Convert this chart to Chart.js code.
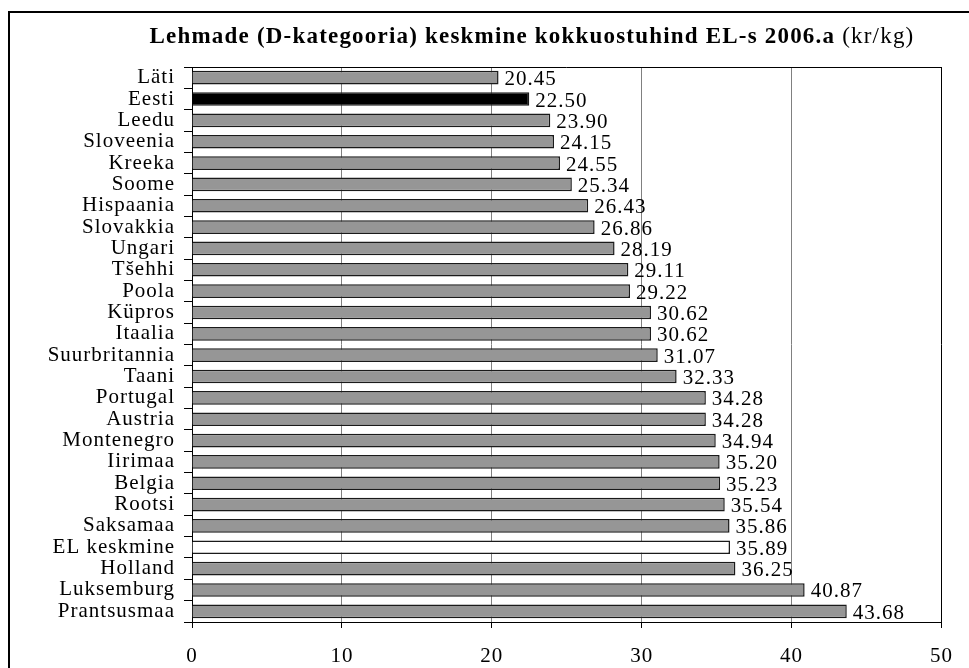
<!DOCTYPE html>
<html>
<head>
<meta charset="utf-8">
<script src="https://cdn.jsdelivr.net/npm/chart.js@4.4.1/dist/chart.umd.min.js"></script>
<style>
  body { margin: 0; background: #fff; }
  #chart-container { width: 969px; height: 668px; position: relative; }
</style>
</head>
<body>
<div id="chart-container"><canvas id="price-chart"></canvas></div>
<script>
// Data
const countries = ['Läti', 'Eesti', 'Leedu', 'Sloveenia', 'Kreeka', 'Soome', 'Hispaania', 'Slovakkia',
    'Ungari', 'Tšehhi', 'Poola', 'Küpros', 'Itaalia', 'Suurbritannia', 'Taani', 'Portugal', 'Austria',
    'Montenegro', 'Iirimaa', 'Belgia', 'Rootsi', 'Saksamaa', 'EL keskmine', 'Holland', 'Luksemburg', 'Prantsusmaa'];
const prices = [20.45, 22.50, 23.90, 24.15, 24.55, 25.34, 26.43, 26.86, 28.19, 29.11, 29.22, 30.62, 30.62,
    31.07, 32.33, 34.28, 34.28, 34.94, 35.20, 35.23, 35.54, 35.86, 35.89, 36.25, 40.87, 43.68];
const xTicks = [0, 10, 20, 30, 40, 50];

const titleBold = 'Lehmade (D-kategooria) keskmine kokkuostuhind EL-s 2006.a';
const titleUnit = ' (kr/kg)';

const serif = '"Liberation Serif", "Times New Roman", serif';
const spacing = '1px';

// Bar colours: Estonia black, EU average white, others grey
const barColors = countries.map(c => c === 'Eesti' ? '#000000' : (c === 'EL keskmine' ? '#ffffff' : '#969696'));

// The original text is a bit wide, so add some letter spacing on the canvas
const spacingPlugin = {
    id: 'spacing',
    beforeLayout(chart) { chart.ctx.letterSpacing = spacing; },
    beforeDraw(chart) { chart.ctx.letterSpacing = spacing; }
};

// Outer frame, title and top border of the plot
const decorPlugin = {
    id: 'decor',
    afterDraw(chart) {
        const ctx = chart.ctx;
        const area = chart.chartArea;
        ctx.save();
        ctx.strokeStyle = '#000';
        ctx.lineWidth = 2;
        ctx.beginPath();
        ctx.moveTo(9, chart.height);
        ctx.lineTo(9, 12);
        ctx.lineTo(chart.width, 12);
        ctx.stroke();

        ctx.lineWidth = 1;
        ctx.beginPath();
        ctx.moveTo(area.left, Math.round(area.top) + 0.5);
        ctx.lineTo(area.right, Math.round(area.top) + 0.5);
        ctx.stroke();

        ctx.fillStyle = '#000';
        ctx.textBaseline = 'alphabetic';
        ctx.textAlign = 'left';
        ctx.letterSpacing = '1.2px';
        ctx.font = 'bold 23px ' + serif;
        const w1 = ctx.measureText(titleBold).width;
        ctx.font = '23px ' + serif;
        const w2 = ctx.measureText(titleUnit).width;
        let x = 532 - (w1 + w2) / 2;
        ctx.font = 'bold 23px ' + serif;
        ctx.fillText(titleBold, x, 43);
        ctx.font = '23px ' + serif;
        ctx.fillText(titleUnit, x + w1, 43);
        ctx.restore();
    }
};

// Value labels at the end of each bar
const valueLabelPlugin = {
    id: 'valueLabels',
    afterDatasetsDraw(chart) {
        const ctx = chart.ctx;
        const meta = chart.getDatasetMeta(0);
        ctx.save();
        ctx.font = '21px ' + serif;
        ctx.fillStyle = '#000';
        ctx.textAlign = 'left';
        ctx.textBaseline = 'middle';
        meta.data.forEach((bar, i) => {
            ctx.fillText(prices[i].toFixed(2), bar.x + 6, bar.y + 2);
        });
        ctx.restore();
    }
};

var ctx = document.getElementById('price-chart').getContext('2d');
var priceChart = new Chart(ctx, {
    type: 'bar',
    data: {
        labels: countries,
        datasets: [{
            data: prices,
            backgroundColor: barColors,
            borderColor: '#1a1a1a',
            borderWidth: 1.5,
            barPercentage: 0.64,
            categoryPercentage: 1
        }]
    },
    options: {
        indexAxis: 'y',
        responsive: true,
        maintainAspectRatio: false,
        animation: false,
        layout: { padding: { top: 67, right: 27, bottom: 0, left: 0 } },
        plugins: {
            legend: { display: false },
            tooltip: { enabled: false }
        },
        scales: {
            x: {
                min: 0,
                max: 50,
                afterFit(scale) { scale.height = 46; },
                afterBuildTicks(scale) { scale.ticks = xTicks.map(v => ({ value: v })); },
                grid: {
                    color: c => (c.tick && (c.tick.value === 0 || c.tick.value === 50)) ? '#000' : '#808080',
                    tickColor: '#000',
                    tickLength: 6,
                    lineWidth: 1
                },
                border: { color: '#000', width: 1 },
                ticks: {
                    color: '#000',
                    font: { family: serif, size: 21 },
                    padding: 16,
                    maxRotation: 0
                }
            },
            y: {
                afterFit(scale) { scale.width = 192; },
                grid: {
                    drawOnChartArea: false,
                    offset: true,
                    tickColor: '#000',
                    tickLength: 8
                },
                border: { color: '#000', width: 1 },
                ticks: {
                    color: '#000',
                    font: { family: serif, size: 21 },
                    padding: 9,
                    autoSkip: false
                }
            }
        }
    },
    plugins: [spacingPlugin, decorPlugin, valueLabelPlugin]
});
</script>
</body>
</html>
